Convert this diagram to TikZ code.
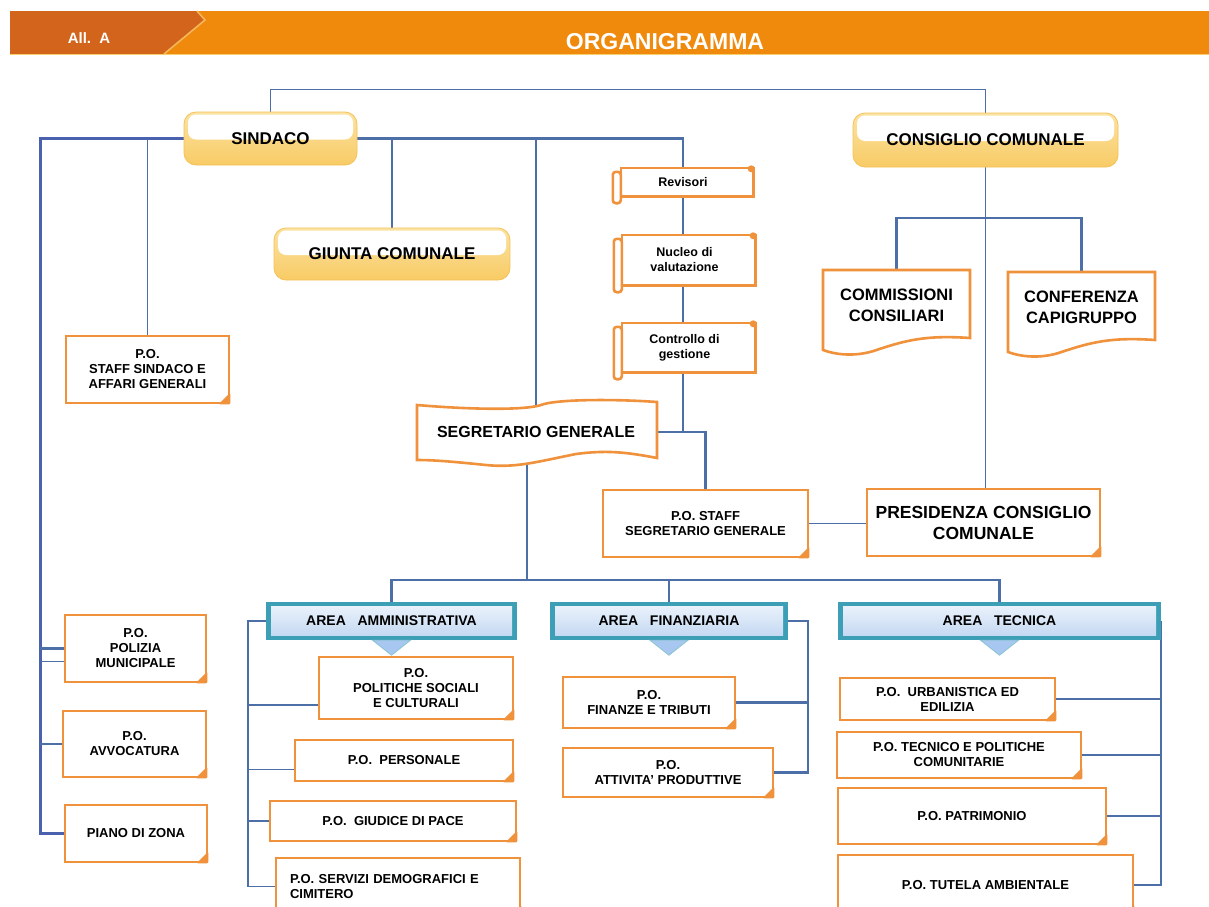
\documentclass[tikz,border=0pt]{standalone}
\usepackage{fontspec}
\setmainfont{Liberation Sans}
\usetikzlibrary{calc}
\pgfdeclarelayer{background}
\pgfdeclarelayer{shapes}
\pgfsetlayers{background,shapes,main}

\definecolor{hdrmain}{HTML}{F08A0C}
\definecolor{hdrdark}{HTML}{D2641C}
\definecolor{hdrlight}{HTML}{F6B65A}
\definecolor{boxorange}{HTML}{F0913C}
\definecolor{pillyellow}{HTML}{F8CF6A}
\definecolor{pillpale}{HTML}{FBE3A4}
\definecolor{pillrim}{HTML}{F4C257}
\definecolor{areateal}{HTML}{3C9FB6}
\definecolor{areatop}{HTML}{EEF5FC}
\definecolor{areabot}{HTML}{BFD5F1}
\definecolor{trifill}{HTML}{A7C7F0}
\definecolor{linkblue}{HTML}{4C6FA8}
\definecolor{railblue}{HTML}{4A62AE}

\tikzset{
  conn/.style={draw=linkblue, line width=2.2pt},
  thinconn/.style={draw=linkblue, line width=1.6pt},
  railconn/.style={draw=railblue, line width=3pt},
  pillbox/.style={rectangle, rounded corners=12pt, draw=pillrim,
    line width=0.8pt, inner sep=0pt, font=\fontsize{17}{20}\selectfont\bfseries,
    top color=pillpale, bottom color=pillyellow!95!orange,
    path picture={\fill[white, rounded corners=8pt]
      ([shift={(4pt,-2.5pt)}]path picture bounding box.north west) rectangle
      ([shift={(-4pt,-1pt)}]path picture bounding box.east);}},
  pobox/.style={rectangle, draw=boxorange, line width=2.8pt, fill=white,
    align=center, inner sep=0pt, font=\fontsize{13}{15}\selectfont\bfseries},
  areabox/.style={rectangle, fill=areateal, inner sep=0pt, minimum height=38pt,
    font=\fontsize{14}{16}\selectfont\bfseries,
    path picture={\shade[top color=areatop, bottom color=areabot]
      ([shift={(5pt,-4pt)}]path picture bounding box.north west) rectangle
      ([shift={(-5pt,5pt)}]path picture bounding box.south east);}},
  textonly/.style={inner sep=0pt, align=center},
  scrolltext/.style={inner sep=0pt, align=center, font=\fontsize{12.5}{15}\selectfont\bfseries},
  shapeline/.style={draw=boxorange, line width=2.6pt, fill=white},
}

% folded page corner of the P.O. boxes
\newcommand{\pagefold}[1]{\fill[boxorange, rounded corners=1.5pt, shift={(#1.south east)}]
  (-12pt,0pt) -- (0pt,12pt) -- (0pt,0pt) -- cycle;}
% horizontal scroll outline around a text node
\newcommand{\scrollshape}[1]{%
  \draw[shapeline] ([xshift=8pt]#1.north west) rectangle (#1.south east);
  \draw[shapeline, rounded corners=3pt] ([yshift=-4pt]#1.north west) rectangle ([shift={(8pt,-7pt)}]#1.south west);
  \fill[boxorange] ([shift={(-2pt,-1pt)}]#1.north east) circle (3.5pt);}
% downward pointer under an area heading
\newcommand{\areapointer}[1]{\filldraw[fill=trifill, draw=areateal!60, line width=0.8pt]
  ([xshift=-19pt]#1.south) -- ([xshift=19pt]#1.south) -- ([yshift=-15pt]#1.south) -- cycle;}

\begin{document}
\begin{tikzpicture}[x=1pt, y=-1pt]
\useasboundingbox (0,0) rectangle (1209,906);
\clip (0,0) rectangle (1209,906);

% ---------- header band ----------
\fill[hdrmain] (10,11) rectangle (1209,54);
\fill[hdrdark] (10,11) -- (197,11) -- (205,20) -- (164,54) -- (10,54) -- cycle;
\draw[hdrlight, line width=1.6pt] (197,11) -- (205,20) -- (164,54);
\draw[pillyellow, line width=1pt] (10,54.5) -- (1209,54.5);
\node[text=white, font=\fontsize{15}{18}\selectfont\bfseries] (allegato) at (89,38) {All.\ \ A};
\node[text=white, font=\fontsize{23}{26}\selectfont\bfseries] (titolo) at (665,42) {ORGANIGRAMMA};

% ---------- governing bodies ----------
\node[pillbox, minimum width=173pt, minimum height=53pt] (sindaco) at (270.5,138.5) {SINDACO};
\node[pillbox, minimum width=236pt, minimum height=52pt] (giunta) at (392,254) {GIUNTA COMUNALE};
\node[pillbox, minimum width=265pt, minimum height=54pt] (consiglio) at (985.5,140) {CONSIGLIO COMUNALE};

% ---------- mayor's staff column ----------
\node[pobox, minimum width=163pt, minimum height=67pt] (staffsind) at (147.5,369.5) {P.O.\\STAFF SINDACO E\\AFFARI GENERALI};
\node[pobox, minimum width=141pt, minimum height=67pt] (polizia) at (135.5,648.5) {P.O.\\POLIZIA\\MUNICIPALE};
\node[pobox, minimum width=143pt, minimum height=66pt] (avvocatura) at (134.5,744) {P.O.\\AVVOCATURA};
\node[pobox, minimum width=142pt, minimum height=57pt] (piano) at (136,833.5) {PIANO DI ZONA};

% ---------- control bodies ----------
\node[scrolltext, minimum width=140pt, minimum height=28pt] (revisori) at (683,182) {Revisori};
\node[scrolltext, minimum width=141pt, minimum height=50pt] (nucleo) at (684.5,260) {Nucleo di\\valutazione};
\node[scrolltext, minimum width=141pt, minimum height=49pt] (controllo) at (684.5,347.5) {Controllo di\\gestione};

% ---------- secretary ----------
\node[textonly, minimum width=242pt, minimum height=60pt, font=\fontsize{16}{19}\selectfont\bfseries] (segretario) at (536,432) {SEGRETARIO GENERALE};
\node[pobox, minimum width=205pt, minimum height=67pt] (staffseg) at (705.5,523.5) {P.O. STAFF\\SEGRETARIO GENERALE};

% ---------- council ----------
\node[textonly, minimum width=147pt, minimum height=70pt, font=\fontsize{16.5}{21}\selectfont\bfseries] (commissioni) at (896.5,305) {COMMISSIONI\\CONSILIARI};
\node[textonly, minimum width=147pt, minimum height=70pt, font=\fontsize{16.5}{21}\selectfont\bfseries] (conferenza) at (1081.5,307) {CONFERENZA\\CAPIGRUPPO};
\node[pobox, minimum width=233pt, minimum height=67pt, font=\fontsize{17.5}{21}\selectfont\bfseries] (presidenza) at (983.5,522.5) {PRESIDENZA CONSIGLIO\\COMUNALE};

% ---------- areas ----------
\node[areabox, minimum width=251pt] (amm) at (391.5,621) {AREA\ \ \ AMMINISTRATIVA};
\node[areabox, minimum width=238pt] (fin) at (669,621) {AREA\ \ \ FINANZIARIA};
\node[areabox, minimum width=323pt] (tec) at (999.5,621) {AREA\ \ \ TECNICA};

\node[pobox, minimum width=194pt, minimum height=62pt] (politiche) at (416,688) {P.O.\\POLITICHE SOCIALI\\E CULTURALI};
\node[pobox, minimum width=218pt, minimum height=41pt] (personale) at (404,760.5) {P.O.\ \ PERSONALE};
\node[pobox, minimum width=246pt, minimum height=40pt] (giudice) at (393,821) {P.O.\ \ GIUDICE DI PACE};
\node[pobox, minimum width=244pt, minimum height=57pt, text width=216pt, align=left] (servizi) at (398,886.5) {P.O. SERVIZI DEMOGRAFICI E\\CIMITERO};

\node[pobox, minimum width=172pt, minimum height=51pt] (finanze) at (649,702.5) {P.O.\\FINANZE E TRIBUTI};
\node[pobox, minimum width=210pt, minimum height=49pt] (attivita) at (668,772.5) {P.O.\\ATTIVITA' PRODUTTIVE};

\node[pobox, minimum width=215pt, minimum height=42pt] (urbanistica) at (947.5,699) {P.O.\ \ URBANISTICA ED\\EDILIZIA};
\node[pobox, minimum width=244pt, minimum height=46pt] (tecnico) at (959,755) {P.O. TECNICO E POLITICHE\\COMUNITARIE};
\node[pobox, minimum width=268pt, minimum height=56pt] (patrimonio) at (972,816) {P.O. PATRIMONIO};
\node[pobox, minimum width=295pt, minimum height=60pt] (tutela) at (985.5,885) {P.O. TUTELA AMBIENTALE};

% folded corners
\foreach \n in {staffsind,polizia,avvocatura,piano,staffseg,presidenza,politiche,personale,giudice,servizi,finanze,attivita,urbanistica,tecnico,patrimonio,tutela}
  {\pagefold{\n}}

% pointers under the area headings
\areapointer{amm}
\areapointer{fin}
\areapointer{tec}

% ---------- outlines drawn beneath the labels ----------
\begin{pgfonlayer}{shapes}
  \scrollshape{revisori}
  \scrollshape{nucleo}
  \scrollshape{controllo}
  \draw[shapeline, shift={(segretario.center)}]
    (-119,-27) .. controls (-60,-22) and (-10,-22) .. (5,-27)
    .. controls (20,-33) and (80,-33) .. (121,-30) -- (121,26)
    .. controls (90,20) and (70,18) .. (40,22)
    .. controls (0,30) and (-20,36) .. (-50,33)
    .. controls (-80,30) and (-100,28) .. (-119,28) -- cycle;
  \foreach \n in {commissioni,conferenza}
    \draw[shapeline, shift={(\n.center)}]
      (-73.5,-35) -- (73.5,-35) -- (73.5,33)
      .. controls (30,30) and (10,35) .. (-20,45)
      .. controls (-40,52) and (-60,50) .. (-73.5,45) -- cycle;
\end{pgfonlayer}

% ---------- connectors ----------
\begin{pgfonlayer}{background}
  \fill[white] (0,0) rectangle (1209,906);
  % mayor to council
  \draw[thinconn] (sindaco.north) -- ++(0,-22) -| (consiglio.north);
  % mayor's line through the control bodies down to the secretary
  \draw[conn] (sindaco.east) -- (revisori.north |- sindaco.east)
    -- (revisori.north |- segretario.east) -- (segretario.east);
  \draw[conn] (segretario.east) -| (staffseg.north);
  \draw[thinconn] (staffsind.north |- sindaco.west) -- (staffsind.north);
  \draw[conn] (giunta.north |- sindaco.east) -- (giunta.north);
  \draw[thinconn] (segretario.north |- sindaco.east) -- (segretario.center);
  % left rail
  \coordinate (leftrail) at (40,138.5);
  \draw[railconn] (sindaco.west) -- (leftrail) |- (piano.west);
  \draw[conn] (leftrail |- polizia.west) -- (polizia.west);
  \coordinate (polizialow) at ($(polizia.west)+(0,13)$);
  \draw[thinconn] (leftrail |- polizialow) -- (polizialow);
  \draw[conn] (leftrail |- avvocatura.west) -- (avvocatura.west);
  % secretary to the areas
  \draw[conn] ($(segretario.south)+(-9,0)$) -- ++(0,118) coordinate (bus);
  \draw[conn] (amm.north) -- (amm.north |- bus) -- (tec.north |- bus) -- (tec.north);
  \draw[conn] (fin.north |- bus) -- (fin.north);
  % administrative area
  \draw[thinconn] (amm.west) -- ++(-18,0) coordinate (ammrail) |- (servizi.west);
  \coordinate (politichelow) at ($(politiche.west)+(0,17)$);
  \coordinate (personalelow) at ($(personale.west)+(0,9)$);
  \draw[conn] (ammrail |- politichelow) -- (politichelow);
  \draw[thinconn] (ammrail |- personalelow) -- (personalelow);
  \draw[conn] (ammrail |- giudice.west) -- (giudice.west);
  % financial area
  \draw[conn] (fin.east) -- ++(20,0) coordinate (finrail) |- (attivita.east);
  \draw[conn] (finanze.east) -- (finanze.east -| finrail);
  % technical area
  \draw[thinconn] (tec.east) |- (tutela.east);
  \draw[conn] (urbanistica.east) -- (urbanistica.east -| tec.east);
  \draw[conn] (tecnico.east) -- (tecnico.east -| tec.east);
  \draw[thinconn] (patrimonio.east) -- (patrimonio.east -| tec.east);
  % council
  \draw[thinconn] (consiglio.south) -- (consiglio.south |- presidenza.north);
  \draw[conn] (commissioni.north) -- ++(0,-52) -| (conferenza.north);
  \draw[thinconn] (staffseg.east) -- (staffseg.east -| presidenza.west);
\end{pgfonlayer}
\end{tikzpicture}
\end{document}
